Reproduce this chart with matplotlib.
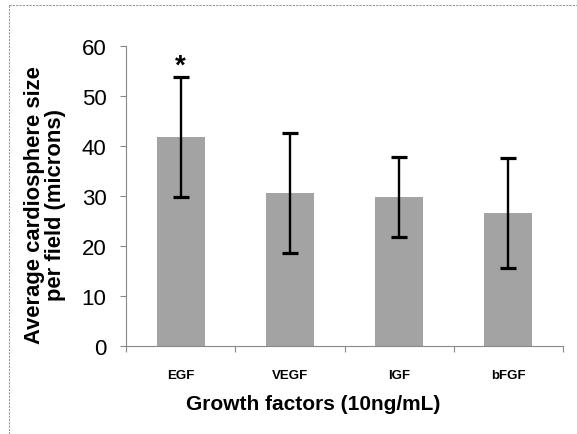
import matplotlib
matplotlib.use("Agg")
import matplotlib.pyplot as plt
from matplotlib.lines import Line2D

categories = ["EGF", "VEGF", "IGF", "bFGF"]
means = [41.8, 30.6, 29.8, 26.6]
errors = [12.0, 12.0, 8.0, 11.0]
y_ticks = [0, 10, 20, 30, 40, 50, 60]

plt.rcParams['font.family'] = ['Liberation Sans', 'DejaVu Sans']

W, H = 577, 435
fig = plt.figure(figsize=(5.77, 4.35), dpi=100)
ax = fig.add_axes([126/W, 1-347.3/H, (563-126)/W, (347.3-47.3)/H])

x = list(range(len(categories)))
ax.bar(x, means, width=0.44, color='#a3a3a3', edgecolor='none', zorder=2)
ax.errorbar(x, means, yerr=errors, fmt='none', ecolor='black', elinewidth=1.7,
            capsize=5.8, capthick=2.3, zorder=3)

ax.set_xlim(-0.5, 3.5)
ax.set_ylim(0, 60)
ax.set_yticks(y_ticks)
ax.set_yticklabels([str(v) for v in y_ticks], fontsize=16)
ax.set_xticks(x)
ax.set_xticklabels(categories, fontsize=9.5, fontweight='bold')
ax.set_xticks([i - 0.5 for i in range(len(categories) + 1)], minor=True)
ax.tick_params(axis='x', which='major', length=0, pad=16)
ax.tick_params(axis='x', which='minor', length=4, direction='out', color='#888888', width=0.8)
ax.tick_params(axis='y', length=4, direction='out', color='#888888', width=0.8, pad=10)

for s in ['top', 'right']:
    ax.spines[s].set_visible(False)
for s in ['left', 'bottom']:
    ax.spines[s].set_color('#888888')
    ax.spines[s].set_linewidth(0.8)

fig.text(45/W, 1-205/H, "Average cardiosphere size\nper field (microns)", rotation=90,
         ha='center', va='center', multialignment='center', fontsize=15.8,
         fontweight='bold', linespacing=1.05)
fig.text(313/W, 1-405/H, "Growth factors (10ng/mL)", ha='center', va='center',
         fontsize=15, fontweight='bold')

ax.text(0, 53.6, "*", ha='center', va='bottom', fontsize=20, fontweight='bold')

fig.add_artist(Line2D([9/W, 1], [1-6/H, 1-6/H], color='#999999', lw=0.8, linestyle=(0, (2, 1))))
fig.add_artist(Line2D([9/W, 9/W], [0, 1-6/H], color='#999999', lw=0.8, linestyle=(0, (2, 1))))

fig.savefig("out.png", dpi=100)
